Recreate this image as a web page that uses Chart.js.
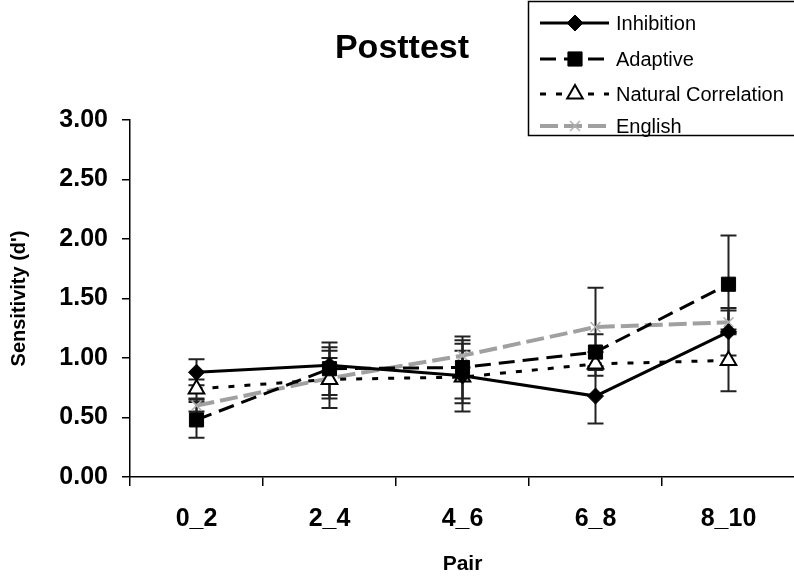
<!DOCTYPE html>
<html>
<head>
<meta charset="utf-8">
<script src="https://cdn.jsdelivr.net/npm/chart.js@4.4.1/dist/chart.umd.min.js"></script>
<style>
    html, body { margin: 0; padding: 0; background: #fff; overflow: hidden; }
    #wrap { position: relative; width: 794px; height: 577px; overflow: hidden; }
    #wrap canvas { position: absolute; left: 0; top: 0; }
</style>
</head>
<body>
<div id="wrap"><canvas id="chart" width="806" height="577"></canvas></div>
<script>
const pairs = ['0_2', '2_4', '4_6', '6_8', '8_10'];
const yTicks = [0, 0.5, 1, 1.5, 2, 2.5, 3];

const inhibition = [0.88, 0.94, 0.85, 0.68, 1.22];
const inhibitionErr = [0.11, 0.15, 0.30, 0.23, 0.20];

const adaptive = [0.48, 0.91, 0.92, 1.05, 1.62];
const adaptiveErr = [0.15, 0.22, 0.26, 0.15, 0.41];

const naturalCorr = [0.74, 0.82, 0.84, 0.95, 0.98];
const naturalCorrErr = [0.08, 0.24, 0.22, 0.10, 0.26];

const english = [0.60, 0.83, 1.02, 1.26, 1.30];
const englishErr = [0.05, 0.17, 0.10, 0.33, 0.10];

const FONT = "'Liberation Sans', Arial, sans-serif";

// vertical error bars, drawn under the markers
const errorBars = {
    id: 'errorBars',
    beforeDatasetsDraw(chart) {
        const ctx = chart.ctx;
        const xs = chart.scales.x, ys = chart.scales.y;
        ctx.save();
        ctx.strokeStyle = '#222';
        ctx.lineWidth = 2;
        chart.data.datasets.forEach(ds => {
            ds.data.forEach((v, i) => {
                const e = ds.err[i];
                const x = xs.getPixelForValue(i);
                const top = ys.getPixelForValue(v + e);
                const bot = ys.getPixelForValue(v - e);
                ctx.beginPath();
                ctx.moveTo(x, top); ctx.lineTo(x, bot);
                ctx.moveTo(x - 8, top); ctx.lineTo(x + 8, top);
                ctx.moveTo(x - 8, bot); ctx.lineTo(x + 8, bot);
                ctx.stroke();
            });
        });
        ctx.restore();
    }
};

// title and boxed legend with marker in the middle of each line sample
const decorations = {
    id: 'decorations',
    afterDraw(chart) {
        const ctx = chart.ctx;
        ctx.save();
        ctx.fillStyle = '#000';
        ctx.font = 'bold 34px ' + FONT;
        ctx.textAlign = 'center';
        ctx.textBaseline = 'middle';
        ctx.fillText('Posttest', 402, 49);

        ctx.strokeStyle = '#000';
        ctx.lineWidth = 1.5;
        ctx.strokeRect(528.5, 1.5, 300, 134);

        const rows = [23, 59, 94, 126];
        ctx.font = '20px ' + FONT;
        ctx.textAlign = 'left';
        chart.data.datasets.forEach((ds, i) => {
            const y = rows[i];
            ctx.save();
            ctx.strokeStyle = ds.borderColor;
            ctx.lineWidth = ds.borderWidth;
            ctx.setLineDash(ds.borderDash || []);
            ctx.beginPath();
            ctx.moveTo(540, y); ctx.lineTo(609, y);
            ctx.stroke();
            ctx.restore();
            ctx.fillStyle = ds.pointBackgroundColor;
            ctx.strokeStyle = ds.pointBorderColor;
            ctx.lineWidth = ds.pointBorderWidth;
            Chart.helpers.drawPoint(ctx, {
                pointStyle: ds.pointStyle,
                radius: ds.pointRadius,
                borderWidth: ds.pointBorderWidth,
                rotation: 0
            }, 575, y);
            ctx.fillStyle = '#000';
            ctx.fillText(ds.label, 616, y + 1);
        });
        ctx.restore();
    }
};

window.onload = function() {
    const ctx = document.getElementById('chart').getContext('2d');
    new Chart(ctx, {
        type: 'line',
        data: {
            labels: pairs,
            datasets: [{
                label: 'Inhibition',
                data: inhibition,
                err: inhibitionErr,
                borderColor: '#000',
                borderWidth: 3,
                pointStyle: 'rectRot',
                pointRadius: 8,
                pointBackgroundColor: '#000',
                pointBorderColor: '#000',
                pointBorderWidth: 1
            }, {
                label: 'Adaptive',
                data: adaptive,
                err: adaptiveErr,
                borderColor: '#000',
                borderWidth: 3,
                borderDash: [16, 8],
                pointStyle: 'rect',
                pointRadius: 10,
                pointBackgroundColor: '#000',
                pointBorderColor: '#000',
                pointBorderWidth: 1
            }, {
                label: 'Natural Correlation',
                data: naturalCorr,
                err: naturalCorrErr,
                borderColor: '#000',
                borderWidth: 3,
                borderDash: [6, 10],
                pointStyle: 'triangle',
                pointRadius: 9,
                pointBackgroundColor: '#fff',
                pointBorderColor: '#000',
                pointBorderWidth: 2
            }, {
                label: 'English',
                data: english,
                err: englishErr,
                borderColor: '#a0a0a0',
                borderWidth: 4,
                borderDash: [18, 6],
                pointStyle: 'crossRot',
                pointRadius: 7,
                pointBackgroundColor: '#b0b0b0',
                pointBorderColor: '#b0b0b0',
                pointBorderWidth: 1.5
            }]
        },
        options: {
            responsive: false,
            animation: false,
            layout: { padding: { top: 120, right: 6, left: 0, bottom: 0 } },
            plugins: {
                legend: { display: false },
                title: { display: false },
                tooltip: { enabled: false }
            },
            scales: {
                x: {
                    offset: true,
                    grid: { display: true, offset: true, drawOnChartArea: false, tickLength: 9, color: '#000', lineWidth: 1.5 },
                    border: { color: '#000', width: 1.5 },
                    ticks: { color: '#000', padding: 18, maxRotation: 0, font: { family: FONT, size: 25, weight: 'bold' } },
                    title: { display: true, text: 'Pair', color: '#000', padding: { top: 0, bottom: 0 }, font: { family: FONT, size: 21, weight: 'bold' } },
                    afterFit(scale) { scale.height = 100; }
                },
                y: {
                    min: 0,
                    max: 3,
                    afterBuildTicks(scale) { scale.ticks = yTicks.map(v => ({ value: v })); },
                    grid: { display: true, drawOnChartArea: false, tickLength: 8, color: '#000', lineWidth: 1.5 },
                    border: { color: '#000', width: 1.5 },
                    ticks: {
                        color: '#000', padding: 14,
                        font: { family: FONT, size: 25, weight: 'bold' },
                        callback: v => v.toFixed(2)
                    },
                    title: { display: true, text: "Sensitivity (d')", color: '#000', padding: { top: 7, bottom: 0 }, font: { family: FONT, size: 20, weight: 'bold' } },
                    afterFit(scale) { scale.width = 130; }
                }
            }
        },
        plugins: [errorBars, decorations]
    });
};
</script>
</body>
</html>
